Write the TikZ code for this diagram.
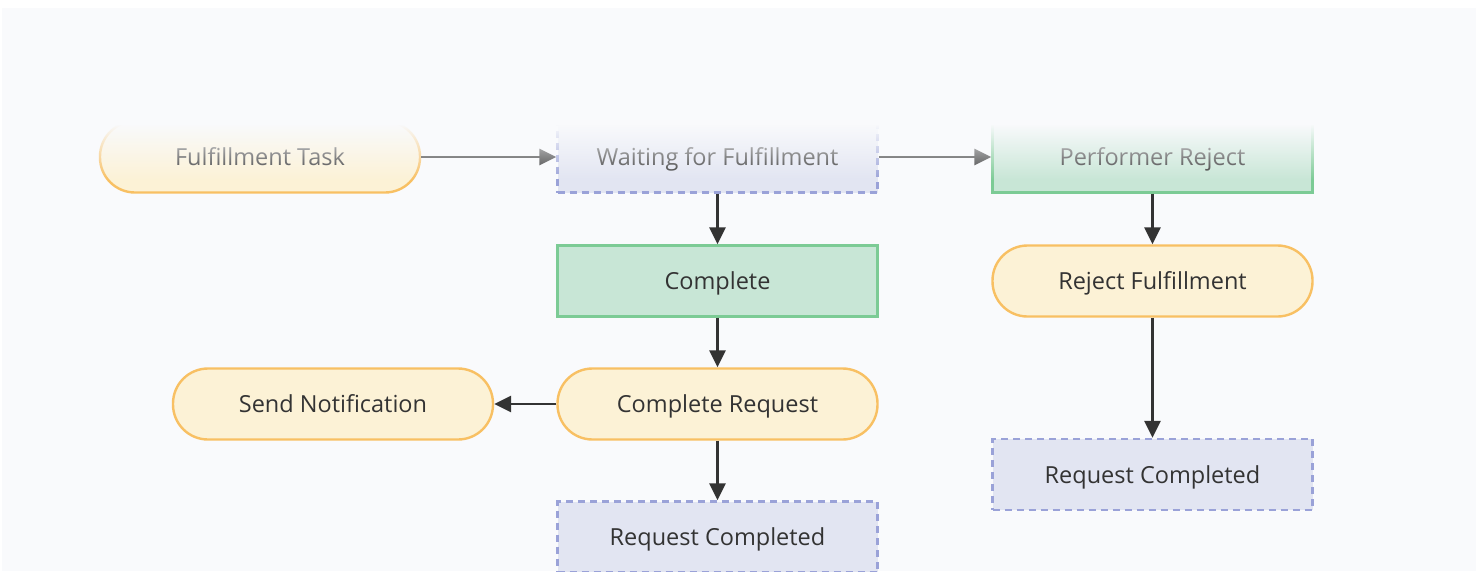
\documentclass[tikz,border=0pt]{standalone}
\usepackage{fontspec}
\setmainfont{Open Sans}
\usetikzlibrary{arrows.meta,fadings}

\definecolor{canvas}{HTML}{F9FAFC}
\definecolor{txt}{HTML}{333333}
\definecolor{termfill}{HTML}{FCF2D6}
\definecolor{termline}{HTML}{F8C063}
\definecolor{actfill}{HTML}{C8E6D6}
\definecolor{actline}{HTML}{7CCB95}
\definecolor{statefill}{HTML}{E2E5F2}
\definecolor{stateline}{HTML}{9AA2D8}
\definecolor{arrowdark}{HTML}{333333}

\tikzfading[name=topfade, top color=transparent!0, bottom color=transparent!100]

\tikzset{
  base/.style={minimum width=320pt, minimum height=71pt, inner sep=0pt,
    line width=2.4pt, text=txt, font=\fontsize{23.5}{27}\selectfont,
    text height=17pt, text depth=0pt},
  terminal/.style={base, draw=termline, fill=termfill, rounded corners=35pt},
  action/.style={base, draw=actline, fill=actfill},
  state/.style={base, draw=stateline, fill=statefill, dash pattern=on 7pt off 5pt},
  flow/.style={line width=2.6pt, draw=arrowdark,
    -{Triangle[length=17pt, width=16pt]}},
}

\begin{document}
\begin{tikzpicture}[x=1pt, y=-1pt]
  \useasboundingbox (0,0) rectangle (1478,571);
  \fill[white] (0,0) rectangle (1478,571);
  \fill[canvas] (2,8) rectangle (1476,571);

  % first row
  \node[terminal] (task)    at (260,157)  {Fulfillment Task};
  \node[state]    (wait)    at (717.5,157) {Waiting for Fulfillment};
  \node[action]   (prej)    at (1152.5,157) {Performer Reject};

  % second row
  \node[action]   (done)    at (717.5,281) {Complete};
  \node[terminal] (rejful)  at (1152.5,281) {Reject Fulfillment};

  % third row
  \node[terminal] (notify)  at (333,404) {Send Notification};
  \node[terminal] (creq)    at (717.5,404) {Complete Request};

  % end states
  \node[state]    (endright) at (1152.5,474.5) {Request Completed};
  \node[state]    (endmid)   at (717.5,537) {Request Completed};

  \draw[flow] (task) -- (wait);
  \draw[flow] (wait) -- (prej);
  \draw[flow] (wait) -- (done);
  \draw[flow] (done) -- (creq);
  \draw[flow] (creq) -- (notify);
  \draw[flow] (creq) -- (endmid);
  \draw[flow] (prej) -- (rejful);
  \draw[flow] (rejful) -- (endright);

  % the first row fades out towards the top
  \fill[canvas] (2,100) rectangle (1476,124);
  \fill[canvas, path fading=topfade] (2,124) rectangle (1476,180);
\end{tikzpicture}
\end{document}
